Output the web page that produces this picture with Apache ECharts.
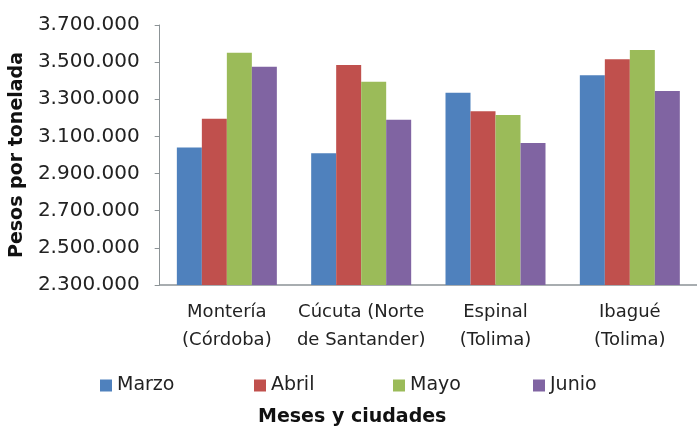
<!DOCTYPE html>
<html>
<head>
<meta charset="utf-8">
<title>Pesos por tonelada</title>
<script src="https://cdn.jsdelivr.net/npm/echarts@6/dist/echarts.min.js"></script>
<style>
  body { margin: 0; background: #fff; }
  #main { width: 697px; height: 428px; }
</style>
</head>
<body>
<div id="main"></div>
<script>
// datos
var ciudades = ['Montería\n(Córdoba)', 'Cúcuta (Norte\nde Santander)', 'Espinal\n(Tolima)', 'Ibagué\n(Tolima)'];
var meses = ['Marzo', 'Abril', 'Mayo', 'Junio'];
var marzo = [3040000, 3010000, 3335000, 3430000];
var abril = [3195000, 3485000, 3235000, 3515000];
var mayo  = [3550000, 3395000, 3215000, 3565000];
var junio = [3475000, 3190000, 3065000, 3345000];
var colores = ['#4F81BD', '#C0504D', '#9BBB59', '#8064A2'];
var legendLeft = [95, 249, 388, 528];

var font = 'DejaVu Sans';
var valores = [marzo, abril, mayo, junio];

function fmt(v) {
  return String(v).replace(/\B(?=(\d{3})+(?!\d))/g, '.');
}

var chart = echarts.init(document.getElementById('main'));
chart.setOption({
  animation: false,
  color: colores,
  textStyle: { fontFamily: font },
  grid: { left: 159, right: -3, top: 25, bottom: 143 },
  title: {
    text: 'Meses y ciudades',
    left: 253, top: 403,
    textStyle: { fontFamily: font, fontWeight: 'bold', fontSize: 19, color: '#111' }
  },
  legend: meses.map(function (m, i) {
    return {
      data: [m], left: legendLeft[i], top: 371,
      itemWidth: 12, itemHeight: 12, itemGap: 4,
      icon: 'rect',
      textStyle: { fontFamily: font, fontSize: 19, color: '#222' }
    };
  }),
  xAxis: {
    type: 'category',
    data: ciudades,
    axisLine: { lineStyle: { color: '#8c9396', width: 1.5 } },
    axisTick: { show: false },
    axisLabel: { fontSize: 18, color: '#222', lineHeight: 28, margin: 13, interval: 0 }
  },
  yAxis: {
    type: 'value',
    min: 2300000, max: 3700000, interval: 200000,
    name: 'Pesos por tonelada',
    nameLocation: 'middle',
    nameGap: 124,
    nameTextStyle: { fontFamily: font, fontWeight: 'bold', fontSize: 19, color: '#111' },
    splitLine: { show: false },
    axisLine: { show: true, lineStyle: { color: '#8c9396' } },
    axisTick: { show: true, length: 5, lineStyle: { color: '#8c9396' } },
    axisLabel: { fontSize: 20, color: '#222', margin: 20, formatter: fmt }
  },
  series: meses.map(function (m, i) {
    return {
      name: m, type: 'bar', data: valores[i],
      barWidth: 25, barGap: '0%'
    };
  })
});
</script>
</body>
</html>
